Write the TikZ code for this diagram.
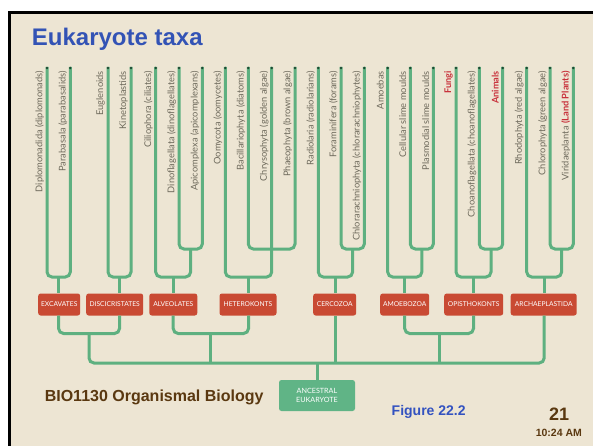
\documentclass[tikz,border=0pt]{standalone}
\usepackage{fontspec}
\setmainfont{Liberation Sans}
\newfontfamily\lato{Lato}
\definecolor{bg}{HTML}{EDE5D3}
\definecolor{brc}{HTML}{5EB080}
\definecolor{dotc}{HTML}{1F4A33}
\definecolor{boxred}{HTML}{C94A33}
\definecolor{anc}{HTML}{60B486}
\definecolor{lbl}{HTML}{6E6A5C}
\definecolor{hl}{HTML}{C8303A}
\definecolor{ttl}{HTML}{3353B5}
\definecolor{brn}{HTML}{5A3810}
\definecolor{figc}{HTML}{3352C0}
\begin{document}
\begin{tikzpicture}[x=1pt,y=-1pt,
  branch/.style={draw=brc, line width=3pt, rounded corners=5pt},
  taxon/.style={rotate=90, anchor=east, inner sep=0pt, text=lbl, font=\lato\fontsize{9.3}{10}\selectfont},
  redtaxon/.style={taxon, text=hl, font=\lato\bfseries\fontsize{9.2}{10}\selectfont},
  group/.style={fill=boxred, rounded corners=2.5pt, text=white, inner sep=0pt, minimum height=22pt, font=\lato\fontsize{6.7}{7}\selectfont},
  tipdot/.style={fill=dotc}]
\useasboundingbox (0,0) rectangle (593,446);
\fill[white] (0,0) rectangle (593,446);
\fill[bg] (9,12) rectangle (593,446);
\draw[black, line width=3pt] (9.5,446) -- (9.5,12.5) -- (593,12.5);

\node[anchor=base west, inner sep=0pt, text=ttl, font=\bfseries\fontsize{24}{28}\selectfont] (title) at (31.7,45.7) {Eukaryote taxa};

% leaf tips
\foreach \i/\x in {1/47,2/70.3,3/108,4/131,5/155.7,6/179,7/202.3,8/225.3,9/248.3,10/271.7,11/295,12/318.3,13/341,14/364.3,15/387.7,16/410.3,17/433.3,18/456,19/479.3,20/502.7,21/526.7,22/550,23/573.3}
  \coordinate (l\i) at (\x,67);

% group boxes
\node[group, minimum width=42pt] (exc) at (59.2,304.5) {EXCAVATES};
\node[group, minimum width=57pt] (disc) at (114.7,304.5) {DISCICRISTATES};
\node[group, minimum width=48pt] (alv) at (173.3,304.5) {ALVEOLATES};
\node[group, minimum width=57pt] (het) at (248,304.5) {HETEROKONTS};
\node[group, minimum width=43pt] (cerc) at (334.7,304.5) {CERCOZOA};
\node[group, minimum width=49pt] (amoe) at (404.7,304.5) {AMOEBOZOA};
\node[group, minimum width=59pt] (opis) at (473.7,304.5) {OPISTHOKONTS};
\node[group, minimum width=66pt] (arch) at (543.7,304.5) {ARCHAEPLASTIDA};
\node[fill=anc, rounded corners=2.5pt, text=white, inner sep=0pt, minimum width=76pt, minimum height=31pt, align=center, font=\lato\fontsize{7.2}{9.3}\selectfont] (ances) at (317,395.5) {ANCESTRAL\\EUKARYOTE};

% junctions
\coordinate (jexc) at (58.6,277);
\coordinate (jdisc) at (119.5,277);
\coordinate (ialv) at (190.6,249);
\coordinate (jalv) at (173.2,277);
\coordinate (ihet) at (271.7,249);
\coordinate (jhet) at (248.5,277);
\coordinate (icerc) at (352.6,249);
\coordinate (jcerc) at (335.4,277);
\coordinate (iamoe) at (421.8,249);
\coordinate (jamoe) at (404.7,277);
\coordinate (iopis) at (491,249);
\coordinate (jopis) at (473.5,277);
\coordinate (iarch) at (561.6,249);
\coordinate (jarch) at (544.2,277);
\coordinate (k1) at (89,333.5);
\coordinate (k2) at (210.8,333.5);
\coordinate (k3) at (439,333.5);
\coordinate (root) at (317,363);

% upper tree
\draw[branch] (l1) |- (jexc) -| (l2);
\draw[branch] (l3) |- (jdisc) -| (l4);
\draw[branch] (l6) |- (ialv) -| (l7);
\draw[branch] (l5) |- (jalv) -| (ialv);
\draw[branch] (l9) |- (ihet) -| (l11);
\draw[branch] (l8) |- (jhet) -| (l10);
\draw[branch] (l13) |- (icerc) -| (l14);
\draw[branch] (l12) |- (jcerc) -| (icerc);
\draw[branch] (l16) |- (iamoe) -| (l17);
\draw[branch] (l15) |- (jamoe) -| (iamoe);
\draw[branch] (l19) |- (iopis) -| (l20);
\draw[branch] (l18) |- (jopis) -| (iopis);
\draw[branch] (l22) |- (iarch) -| (l23);
\draw[branch] (l21) |- (jarch) -| (iarch);
\foreach \j/\b in {jexc/exc,jdisc/disc,jalv/alv,jhet/het,jcerc/cerc,jamoe/amoe,jopis/opis,jarch/arch}
  \draw[branch] (\j) -- (\j |- \b.north);

% lower tree
\draw[branch] (exc.south -| jexc) |- (k1) -| (disc.south -| jdisc);
\draw[branch] (alv.south -| jalv) |- (k2) -| (het.south -| jhet);
\draw[branch] (amoe.south -| jamoe) |- (k3) -| (opis.south -| jopis);
\draw[branch] (k1) |- (root) -| (arch.south -| jarch);
\draw[branch] (k2) -- (k2 |- root);
\draw[branch] (k3) -- (k3 |- root);
\draw[branch] (cerc.south -| jcerc) -- (jcerc |- root);
\draw[branch] (root) -- (ances.north);

% tip dots
\foreach \i in {1,...,23} \fill[tipdot] (l\i) ++(0,1) circle (1.4pt);

% taxon labels
\node[taxon] (t1) at ([xshift=-7.5pt,yshift=-4pt]l1) {Diplomonadida (diplomonads)};
\node[taxon] (t2) at ([xshift=-7.5pt,yshift=-4pt]l2) {Parabasala (parabasalids)};
\node[taxon] (t3) at ([xshift=-7.5pt,yshift=-4pt]l3) {Euglenoids};
\node[taxon] (t4) at ([xshift=-7.5pt,yshift=-4pt]l4) {Kinetoplastids};
\node[taxon] (t5) at ([xshift=-7.5pt,yshift=-4pt]l5) {Ciliophora (ciliates)};
\node[taxon] (t6) at ([xshift=-7.5pt,yshift=-4pt]l6) {Dinoflagellata (dinoflagellates)};
\node[taxon] (t7) at ([xshift=-7.5pt,yshift=-4pt]l7) {Apicomplexa (apicomplexans)};
\node[taxon] (t8) at ([xshift=-7.5pt,yshift=-4pt]l8) {Oomycota (oomycetes)};
\node[taxon] (t9) at ([xshift=-7.5pt,yshift=-4pt]l9) {Bacillariophyta (diatoms)};
\node[taxon] (t10) at ([xshift=-7.5pt,yshift=-4pt]l10) {Chrysophyta (golden algae)};
\node[taxon] (t11) at ([xshift=-7.5pt,yshift=-4pt]l11) {Phaeophyta (brown algae)};
\node[taxon] (t12) at ([xshift=-7.5pt,yshift=-4pt]l12) {Radiolaria (radiolarians)};
\node[taxon] (t13) at ([xshift=-7.5pt,yshift=-4pt]l13) {Foraminifera (forams)};
\node[taxon] (t14) at ([xshift=-7.5pt,yshift=-4pt]l14) {Chlorarachniophyta (chlorarachniophytes)};
\node[taxon] (t15) at ([xshift=-7.5pt,yshift=-4pt]l15) {Amoebas};
\node[taxon] (t16) at ([xshift=-7.5pt,yshift=-4pt]l16) {Cellular slime moulds};
\node[taxon] (t17) at ([xshift=-7.5pt,yshift=-4pt]l17) {Plasmodial slime moulds};
\node[redtaxon] (t18) at ([xshift=-7.5pt,yshift=-4pt]l18) {Fungi};
\node[taxon] (t19) at ([xshift=-7.5pt,yshift=-4pt]l19) {Choanoflagellata (choanoflagellates)};
\node[redtaxon] (t20) at ([xshift=-7.5pt,yshift=-4pt]l20) {Animals};
\node[taxon] (t21) at ([xshift=-7.5pt,yshift=-4pt]l21) {Rhodophyta (red algae)};
\node[taxon] (t22) at ([xshift=-7.5pt,yshift=-4pt]l22) {Chlorophyta (green algae)};
\node[taxon] (t23) at ([xshift=-7.5pt,yshift=-4pt]l23) {Viridaeplanta {\bfseries\color{hl}(Land Plants)}};

% footer texts
\node[anchor=base west, inner sep=0pt, text=brn, font=\bfseries\fontsize{16}{18}\selectfont] (course) at (44.6,401.5) {BIO1130 Organismal Biology};
\node[anchor=base west, inner sep=0pt, text=figc, font=\bfseries\fontsize{14}{16}\selectfont] (figno) at (391.5,415) {Figure 22.2};
\node[anchor=base west, inner sep=0pt, text=brn, font=\bfseries\fontsize{18}{20}\selectfont] (page) at (549,420.7) {21};
\node[anchor=base west, inner sep=0pt, text=brn, font=\bfseries\fontsize{10.5}{12}\selectfont] (time) at (535.6,436.7) {10:24 AM};
\end{tikzpicture}
\end{document}
